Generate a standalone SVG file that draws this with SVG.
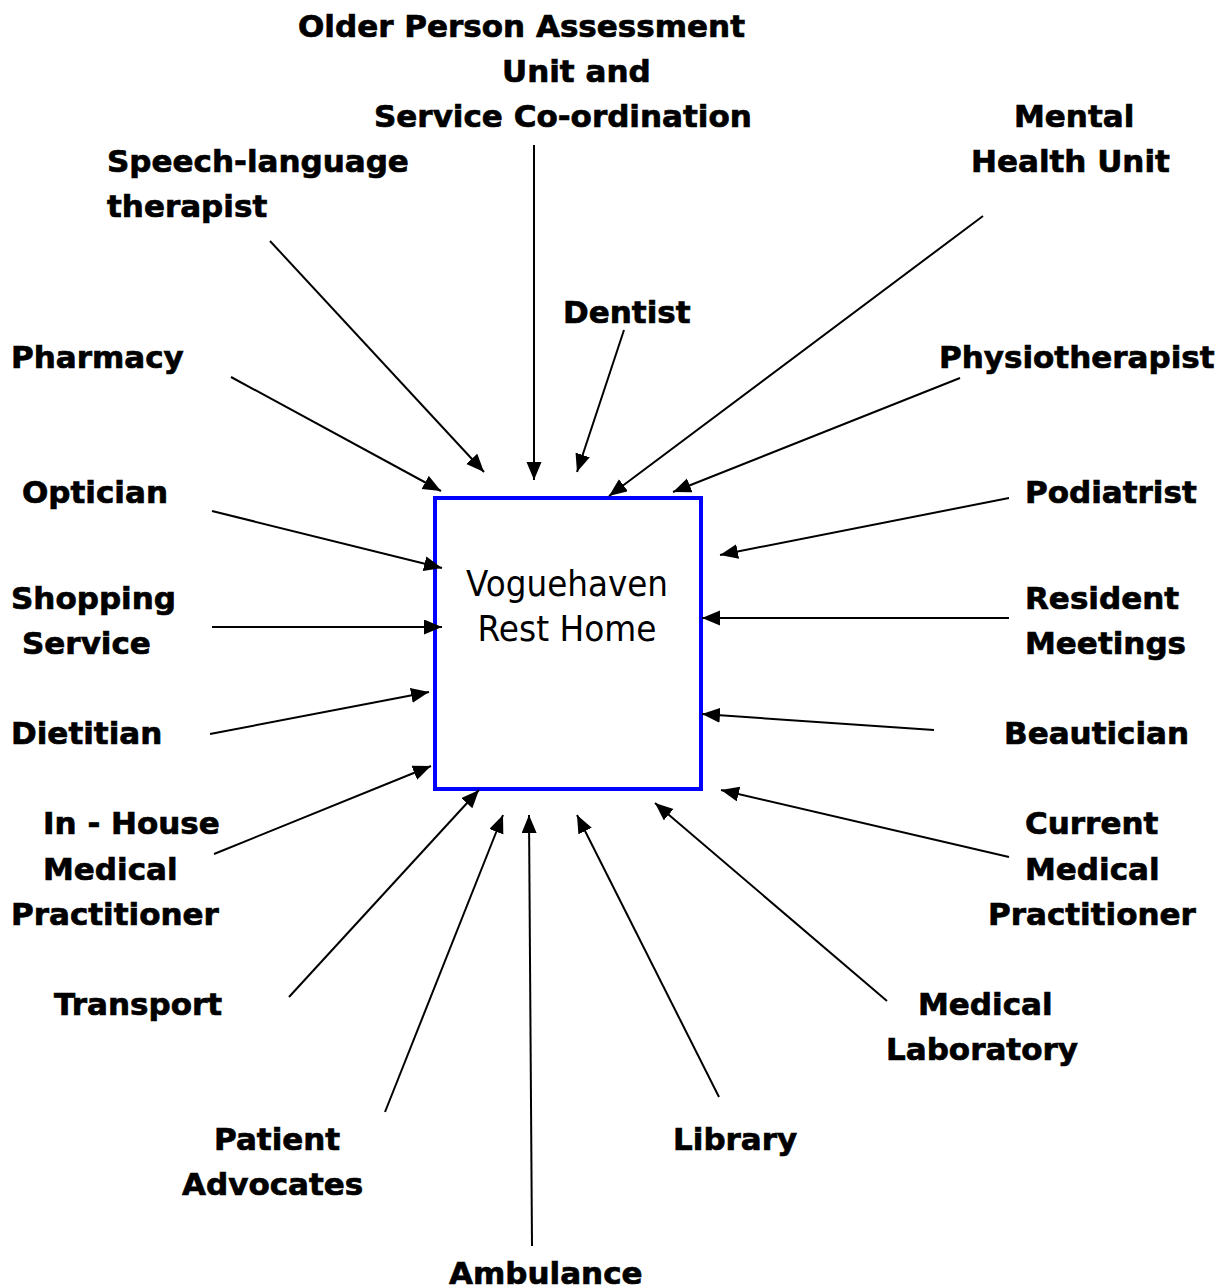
<svg xmlns="http://www.w3.org/2000/svg" width="1223" height="1288" viewBox="0 0 1223 1288">
<style>
.lbl{font-family:"DejaVu Sans","Verdana",sans-serif;font-weight:bold;font-size:31px;fill:#000;stroke:#000;stroke-width:0.7px}
.ctr{font-family:"DejaVu Sans","Tahoma",sans-serif;font-size:35px;fill:#000}
.con{stroke:#000;stroke-width:2;fill:none;marker-end:url(#ah)}
</style>
<defs>
<marker id="ah" markerUnits="userSpaceOnUse" markerWidth="20" markerHeight="16" refX="18" refY="7.5" orient="auto">
<path d="M0,0 L18,7.5 L0,15 z" fill="#000"/>
</marker>
</defs>
<rect width="1223" height="1288" fill="#fff"/>
<g id="center">
<rect x="435" y="498" width="266" height="291" fill="#fff" stroke="#0000ff" stroke-width="4"/>
<text class="ctr" x="567" y="596" text-anchor="middle" textLength="202" lengthAdjust="spacingAndGlyphs">Voguehaven</text>
<text class="ctr" x="567" y="641" text-anchor="middle" textLength="179" lengthAdjust="spacingAndGlyphs">Rest Home</text>
</g>
<g id="connectors">
<line class="con" x1="534" y1="145" x2="534" y2="480"/>
<line class="con" x1="270" y1="241" x2="484" y2="472"/>
<line class="con" x1="624" y1="330" x2="577" y2="472"/>
<line class="con" x1="983" y1="216" x2="609" y2="496"/>
<line class="con" x1="231" y1="377" x2="441" y2="491"/>
<line class="con" x1="960" y1="378" x2="673" y2="492"/>
<line class="con" x1="212" y1="511" x2="442" y2="568"/>
<line class="con" x1="1009" y1="498" x2="720" y2="555"/>
<line class="con" x1="212" y1="627" x2="442" y2="627"/>
<line class="con" x1="1009" y1="618" x2="702" y2="618"/>
<line class="con" x1="210" y1="734" x2="429" y2="692"/>
<line class="con" x1="934" y1="730" x2="702" y2="714"/>
<line class="con" x1="214" y1="854" x2="431" y2="766"/>
<line class="con" x1="1009" y1="857" x2="721" y2="790"/>
<line class="con" x1="289" y1="997" x2="479" y2="790"/>
<line class="con" x1="887" y1="1001" x2="655" y2="803"/>
<line class="con" x1="385" y1="1112" x2="503" y2="815"/>
<line class="con" x1="532" y1="1246" x2="529" y2="815"/>
<line class="con" x1="719" y1="1097" x2="577" y2="815"/>
</g>
<g id="n-opau"><text class="lbl" x="298" y="37">Older Person Assessment</text><text class="lbl" x="502" y="82">Unit and</text><text class="lbl" x="374" y="127">Service Co-ordination</text></g>
<g id="n-speech"><text class="lbl" x="107" y="172">Speech-language</text><text class="lbl" x="107" y="217">therapist</text></g>
<g id="n-dentist"><text class="lbl" x="563" y="323">Dentist</text></g>
<g id="n-mental"><text class="lbl" x="1014" y="127">Mental</text><text class="lbl" x="971" y="172">Health Unit</text></g>
<g id="n-pharmacy"><text class="lbl" x="11" y="368">Pharmacy</text></g>
<g id="n-physio"><text class="lbl" x="939" y="368">Physiotherapist</text></g>
<g id="n-optician"><text class="lbl" x="22" y="503">Optician</text></g>
<g id="n-podiatrist"><text class="lbl" x="1025" y="503">Podiatrist</text></g>
<g id="n-shopping"><text class="lbl" x="11" y="609">Shopping</text><text class="lbl" x="22" y="654">Service</text></g>
<g id="n-resident"><text class="lbl" x="1025" y="609">Resident</text><text class="lbl" x="1025" y="654">Meetings</text></g>
<g id="n-dietitian"><text class="lbl" x="11" y="744">Dietitian</text></g>
<g id="n-beautician"><text class="lbl" x="1004" y="744">Beautician</text></g>
<g id="n-inhouse"><text class="lbl" x="43" y="834">In - House</text><text class="lbl" x="43" y="880">Medical</text><text class="lbl" x="11" y="925">Practitioner</text></g>
<g id="n-current"><text class="lbl" x="1025" y="834">Current</text><text class="lbl" x="1025" y="880">Medical</text><text class="lbl" x="988" y="925">Practitioner</text></g>
<g id="n-transport"><text class="lbl" x="54" y="1015">Transport</text></g>
<g id="n-lab"><text class="lbl" x="918" y="1015">Medical</text><text class="lbl" x="886" y="1060">Laboratory</text></g>
<g id="n-patient"><text class="lbl" x="214" y="1150">Patient</text><text class="lbl" x="182" y="1195">Advocates</text></g>
<g id="n-library"><text class="lbl" x="673" y="1150">Library</text></g>
<g id="n-ambulance"><text class="lbl" x="449" y="1284">Ambulance</text></g>
</svg>
